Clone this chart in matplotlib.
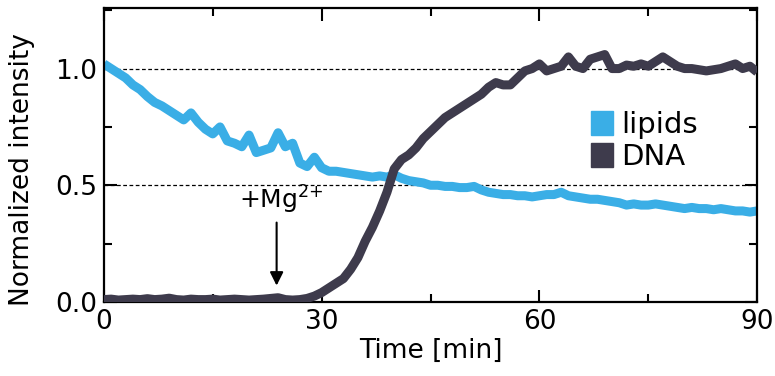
import matplotlib
matplotlib.use("Agg")
import matplotlib.pyplot as plt
from matplotlib.ticker import MultipleLocator, FormatStrFormatter
from matplotlib.patches import Patch

# time axis in minutes, one sample per minute
time_min = list(range(0, 91))

lipids = [1.02, 1.00, 0.98, 0.96, 0.93, 0.91, 0.88, 0.855, 0.84, 0.82,
          0.80, 0.78, 0.81, 0.77, 0.74, 0.72, 0.75, 0.69, 0.68, 0.665,
          0.715, 0.64, 0.65, 0.66, 0.725, 0.665, 0.68, 0.595, 0.58, 0.62,
          0.575, 0.56, 0.56, 0.555, 0.55, 0.545, 0.54, 0.535, 0.54, 0.535,
          0.545, 0.53, 0.52, 0.515, 0.51, 0.50, 0.50, 0.495, 0.495, 0.49,
          0.49, 0.495, 0.48, 0.47, 0.465, 0.46, 0.46, 0.455, 0.455, 0.45,
          0.455, 0.46, 0.46, 0.47, 0.455, 0.45, 0.445, 0.44, 0.44, 0.435,
          0.43, 0.425, 0.415, 0.42, 0.415, 0.415, 0.42, 0.415, 0.41, 0.405,
          0.40, 0.405, 0.40, 0.40, 0.395, 0.40, 0.395, 0.39, 0.39, 0.385,
          0.39]

dna = [0.010, 0.012, 0.008, 0.010, 0.012, 0.010, 0.014, 0.010, 0.012, 0.016,
       0.010, 0.008, 0.012, 0.010, 0.010, 0.012, 0.008, 0.010, 0.012, 0.010,
       0.008, 0.010, 0.012, 0.015, 0.018, 0.010, 0.008, 0.010, 0.015, 0.025,
       0.04, 0.06, 0.08, 0.10, 0.14, 0.19, 0.26, 0.32, 0.39, 0.47,
       0.57, 0.61, 0.63, 0.66, 0.70, 0.73, 0.76, 0.79, 0.81, 0.83,
       0.85, 0.87, 0.89, 0.92, 0.94, 0.93, 0.93, 0.96, 0.99, 1.00,
       1.02, 0.99, 1.00, 1.01, 1.05, 1.01, 1.00, 1.04, 1.05, 1.06,
       1.00, 1.00, 1.015, 1.01, 1.02, 1.01, 1.03, 1.05, 1.03, 1.01,
       1.00, 1.00, 0.995, 0.99, 0.995, 1.00, 1.01, 1.02, 1.00, 1.01,
       0.985]

MG_TIME = 23.8  # Mg2+ added here

LIPID_COLOR = "#3aaee6"
DNA_COLOR = "#3e3b4c"

plt.rcParams["font.family"] = "DejaVu Sans"
plt.rcParams["mathtext.default"] = "regular"

fig = plt.figure(figsize=(7.75, 3.76), dpi=100)
ax = fig.add_axes([0.134, 0.197, 0.843, 0.782])

# reference levels
for level in (1.0, 0.5):
    ax.axhline(level, color="black", lw=0.9, ls=(0, (3, 2)), zorder=1)

ax.plot(time_min, lipids, color=LIPID_COLOR, lw=6.5, solid_joinstyle="round",
        solid_capstyle="butt", zorder=2)
ax.plot(time_min, dna, color=DNA_COLOR, lw=6.5, solid_joinstyle="round",
        solid_capstyle="butt", zorder=3)

ax.set_xlim(0, 90)
ax.set_ylim(0, 1.26)
ax.xaxis.set_major_locator(MultipleLocator(30))
ax.xaxis.set_minor_locator(MultipleLocator(15))
ax.yaxis.set_major_locator(MultipleLocator(0.5))
ax.yaxis.set_minor_locator(MultipleLocator(0.25))
ax.yaxis.set_major_formatter(FormatStrFormatter("%.1f"))
ax.tick_params(which="both", direction="in", top=True, right=True, width=1.5,
               labelsize=19, pad=5)
ax.tick_params(which="major", length=9)
ax.tick_params(which="minor", length=6)
for sp in ax.spines.values():
    sp.set_linewidth(1.6)

ax.set_xlabel("Time [min]", fontsize=19, labelpad=2)
ax.set_ylabel("Normalized intensity", fontsize=19)
ax.yaxis.set_label_coords(-0.106, 0.45)

# Mg2+ addition marker
ax.annotate("", xy=(MG_TIME, 0.07), xytext=(MG_TIME, 0.34),
            arrowprops=dict(arrowstyle="-|>", color="black", lw=1.5,
                            mutation_scale=20, shrinkA=0, shrinkB=0))
ax.text(MG_TIME + 0.7, 0.37, "+Mg$^{2{+}}$", ha="center", va="bottom",
        fontsize=18)

handles = [Patch(color=LIPID_COLOR, label="lipids"),
           Patch(color=DNA_COLOR, label="DNA")]
ax.legend(handles=handles, loc="upper left", bbox_to_anchor=(0.723, 0.70),
          frameon=False, fontsize=21, handlelength=0.75, handleheight=0.9,
          handletextpad=0.3, labelspacing=0.15, borderpad=0)

fig.savefig("out.png", dpi=100)
